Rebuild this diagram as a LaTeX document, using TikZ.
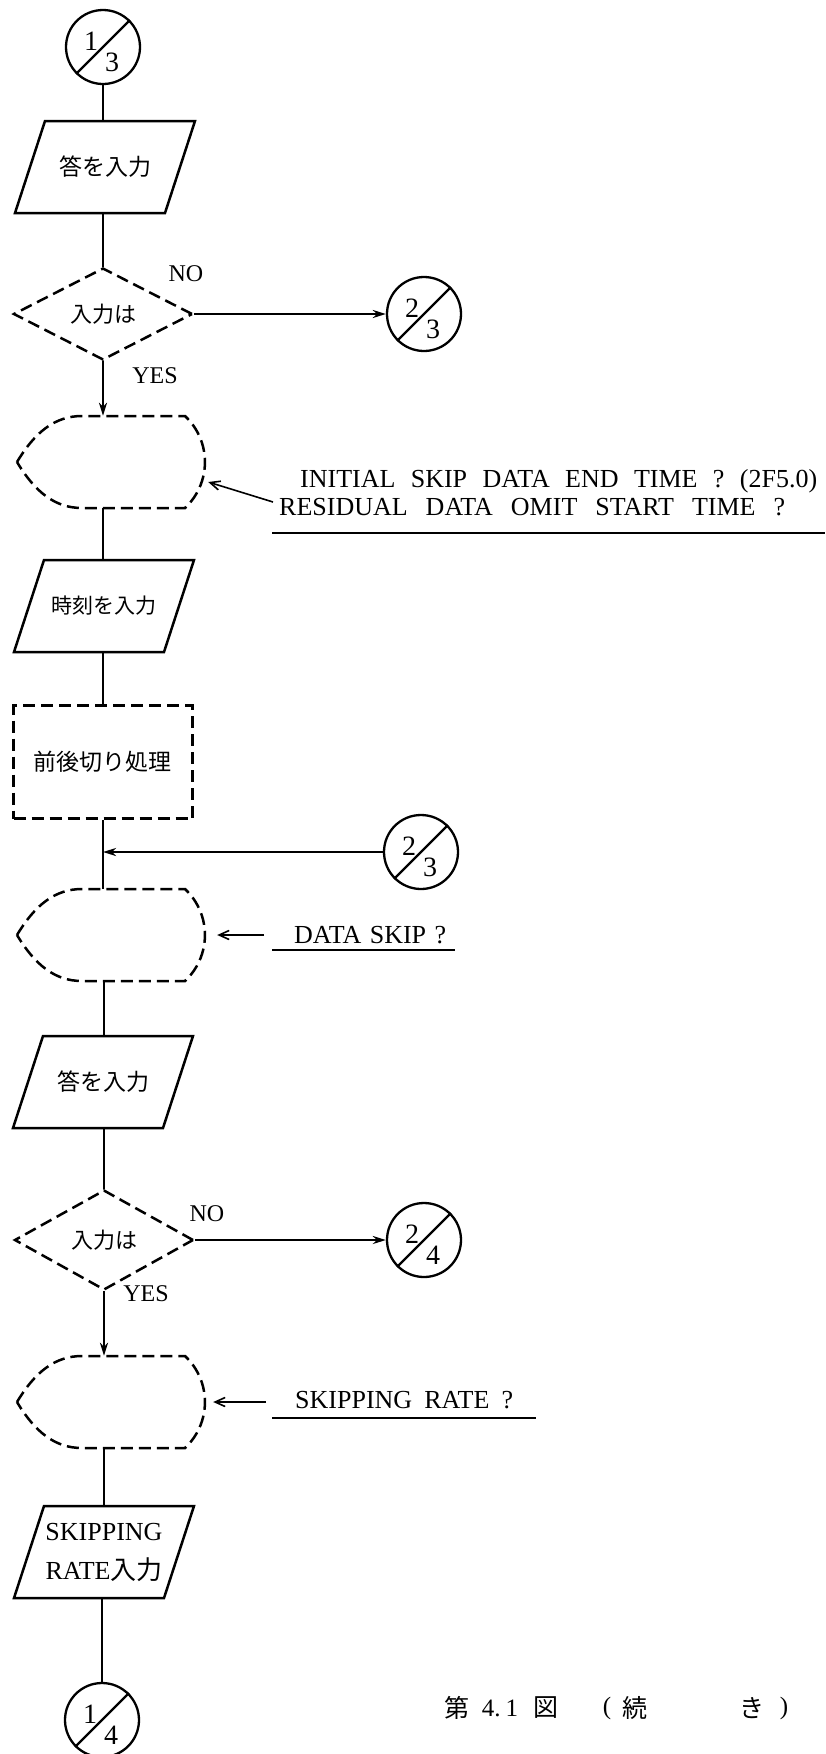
\documentclass[tikz,border=0pt]{standalone}
\usepackage{fontspec}
\setmainfont{Liberation Serif}
\newfontfamily\jp{Noto Sans CJK JP}
\usetikzlibrary{arrows.meta,shapes.geometric}

\tikzset{
  flow/.style={line width=2.5pt},
  flowarrow/.style={line width=2.5pt,-{Stealth[length=13pt,width=8pt,inset=4pt]}},
  dashline/.style={line width=2.5pt,dash pattern=on 12pt off 6pt},
  conn/.style={circle,draw,line width=2.3pt,minimum size=74pt,inner sep=0pt},
  digit/.style={font=\fontsize{28}{28}\selectfont,inner sep=0pt},
  shapebox/.style={draw=none,inner sep=0pt},
  jptext/.style={font=\jp\fontsize{23}{23}\selectfont},
  decision/.style={diamond,draw,dashline,inner sep=0pt,minimum width=179pt,font=\jp\fontsize{22}{22}\selectfont},
  note/.style={font=\fontsize{26}{28}\selectfont,inner sep=0pt,anchor=west},
  yesno/.style={font=\fontsize{24}{24}\selectfont,inner sep=0pt},
  notearrow/.style={line width=1.6pt,-{Straight Barb[length=10pt,width=9pt]}},
  underln/.style={line width=2pt},
  captext/.style={inner sep=0pt,font=\fontsize{25}{25}\selectfont},
}

\newcommand{\DispOutline}[1]{%
  \draw[dashline,shift={(#1.center)}] (-94,0) .. controls (-76,30) and (-56,46) .. (-29,46)
    -- (74,46) arc[start angle=46.9,end angle=-46.9,radius=63pt]
    -- (-29,-46) .. controls (-56,-46) and (-76,-30) .. (-94,0);}
\newcommand{\ParaOutline}[1]{%
  \draw[flow,shift={(#1.center)}] (-60,46) -- (90,46) -- (60,-46) -- (-90,-46) -- cycle;}
\newcommand{\ConnDigits}[3]{%
  \draw[line width=2.3pt] (#1.225) -- (#1.45);
  \node[digit] (#1-top) at ([shift={(-12,6)}]#1.center) {#2};
  \node[digit] (#1-bot) at ([shift={(9,-15)}]#1.center) {#3};}

\begin{document}
\begin{tikzpicture}[x=1pt,y=1pt]
\useasboundingbox (0,0) rectangle (826,-1754);
\fill[white] (0,0) rectangle (826,-1754);

% ---- nodes ----
\node[conn] (c13) at (103,-47) {};
\ConnDigits{c13}{1}{3}

\node[shapebox,minimum width=150pt,minimum height=92pt,jptext] (p1) at (105,-167) {答を入力};
\ParaOutline{p1}

\node[decision,minimum height=92pt] (d1) at (103,-314) {入力は};
\node[yesno] (no1) at (186,-274) {NO};
\node[yesno] (yes1) at (155,-376) {YES};

\node[conn] (c23a) at (424,-314) {};
\ConnDigits{c23a}{2}{3}

\node[shapebox,minimum width=188pt,minimum height=92pt] (disp1) at (111,-462) {};
\DispOutline{disp1}

\node[note] (t1a) at (300,-481) {\makebox[517pt][s]{INITIAL SKIP DATA END TIME ? (2F5.0)}};
\node[note] (t1b) at (279,-507) {\makebox[506pt][s]{RESIDUAL DATA OMIT START TIME ?}};
\coordinate (u1a) at (272,-533);
\coordinate (u1b) at (825,-533);
\coordinate (a1) at (273,-502);

\node[shapebox,minimum width=150pt,minimum height=92pt,font=\jp\fontsize{21}{21}\selectfont] (p2) at (104,-606) {時刻を入力};
\ParaOutline{p2}

\node[rectangle,draw,dashline,minimum width=179pt,minimum height=113pt,inner sep=0pt,jptext] (rect) at (103,-762) {前後切り処理};

\node[conn] (c23b) at (421,-852) {};
\ConnDigits{c23b}{2}{3}
\coordinate (j1) at (rect.south |- c23b);

\node[shapebox,minimum width=188pt,minimum height=92pt] (disp2) at (111,-935) {};
\DispOutline{disp2}
\node[note] (t2) at (294,-935) {\makebox[152pt][s]{DATA SKIP ?}};
\coordinate (u2a) at (272,-950);
\coordinate (u2b) at (455,-950);
\coordinate (a2) at (264,-935);

\node[shapebox,minimum width=150pt,minimum height=92pt,jptext] (p3) at (103,-1082) {答を入力};
\ParaOutline{p3}

\node[decision,minimum height=100pt] (d2) at (104,-1240) {入力は};
\node[yesno] (no2) at (207,-1214) {NO};
\node[yesno] (yes2) at (146,-1294) {YES};

\node[conn] (c24) at (424,-1240) {};
\ConnDigits{c24}{2}{4}

\node[shapebox,minimum width=188pt,minimum height=92pt] (disp3) at (111,-1402) {};
\DispOutline{disp3}
\node[note] (t3) at (295,-1400) {\makebox[218pt][s]{SKIPPING RATE ?}};
\coordinate (u3a) at (272,-1418);
\coordinate (u3b) at (536,-1418);
\coordinate (a3) at (266,-1402);

\node[shapebox,minimum width=150pt,minimum height=94pt,align=center,font=\fontsize{26}{39}\selectfont] (p4) at (104,-1552) {SKIPPING\\RATE{\jp 入力}};
\ParaOutline{p4}

\node[conn] (c14) at (102,-1720) {};
\ConnDigits{c14}{1}{4}

% caption
\node[captext] (capa) at (457,-1708) {\jp 第};
\node[captext] (capb) at (500,-1708) {4.\hspace{5pt}1};
\node[captext] (capc) at (546,-1708) {\jp 図};
\node[captext] (capd) at (607,-1708) {(};
\node[captext] (cape) at (635,-1708) {\jp 続};
\node[captext] (capf) at (752,-1708) {\jp き};
\node[captext] (capg) at (784,-1708) {)};

% ---- connectors ----
\draw[flow] (c13.south) -- (c13.south |- p1.north);
\draw[flow] (p1.south -| d1.north) -- (d1.north);
\draw[flowarrow] (d1.east) -- (c23a.west);
\draw[flowarrow] (d1.south) -- (d1.south |- disp1.north);
\draw[flow] (disp1.south -| d1) -- (p2.north -| d1);
\draw[flow] (p2.south -| rect) -- (rect.north);
\draw[flow] (rect.south) -- (rect.south |- disp2.north);
\draw[flowarrow] (c23b.west) -- (j1);
\draw[flow] (disp2.south -| d2) -- (p3.north -| d2);
\draw[flow] (p3.south -| d2) -- (d2.north);
\draw[flowarrow] (d2.east) -- (c24.west);
\draw[flowarrow] (d2.south) -- (d2.south |- disp3.north);
\draw[flow] (disp3.south -| d2) -- (p4.north -| d2);
\draw[flow] (p4.south -| c14) -- (c14.north);

% annotations
\draw[notearrow] (a1) -- ([shift={(3,-20)}]disp1.east);
\draw[underln] (u1a) -- (u1b);
\draw[notearrow] (a2) -- ([xshift=12]disp2.east);
\draw[underln] (u2a) -- (u2b);
\draw[notearrow] (a3) -- ([xshift=8]disp3.east);
\draw[underln] (u3a) -- (u3b);
\end{tikzpicture}
\end{document}
